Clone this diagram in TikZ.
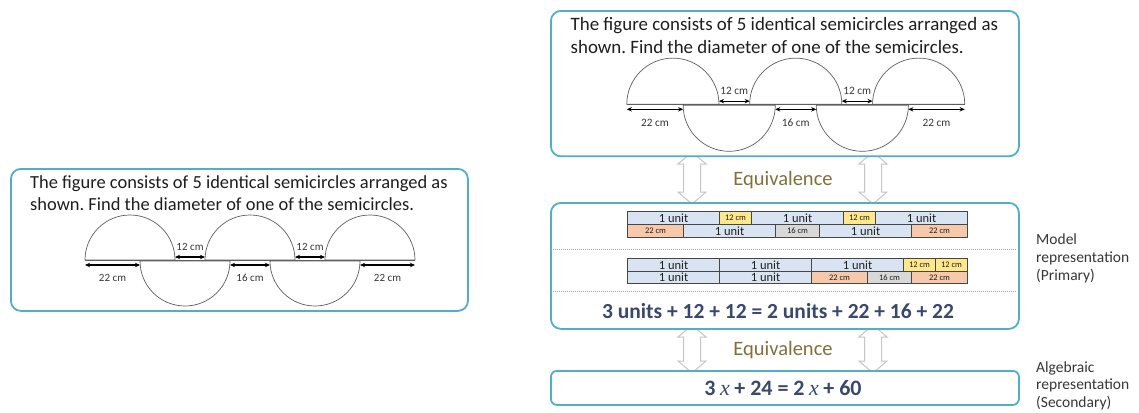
\documentclass[tikz,border=0pt]{standalone}
\usepackage{fontspec}
\setmainfont{Carlito}
\newfontfamily\xserif{Liberation Serif}
\usetikzlibrary{arrows.meta}
\frenchspacing
\definecolor{boxc}{RGB}{80,175,200}
\definecolor{unitc}{RGB}{217,228,242}
\definecolor{yelc}{RGB}{255,232,140}
\definecolor{salc}{RGB}{248,200,170}
\definecolor{grayc}{RGB}{216,216,216}
\definecolor{eqc}{RGB}{58,72,108}
\definecolor{equivc}{RGB}{130,112,60}
\definecolor{cellb}{RGB}{70,70,70}
\definecolor{txtc}{RGB}{30,30,30}
\definecolor{semic}{RGB}{95,95,95}
\definecolor{labc}{RGB}{55,55,55}
\tikzset{
  rbox/.style={draw=boxc, line width=1.8pt, rounded corners=10pt, fill=white, inner sep=0pt},
  ptext/.style={anchor=base west, inner sep=0pt, text=txtc, font=\fontsize{18.45}{22}\selectfont},
  semi/.style={draw=semic, line width=0.7pt},
  baseln/.style={draw=semic, line width=1.3pt},
  dimarr/.style={{Stealth[length=5pt,width=4.4pt]}-{Stealth[length=5pt,width=4.4pt]}, line width=1.2pt, black},
  dimlbl/.style={inner sep=0pt, text=labc, font=\fontsize{11}{12}\selectfont},
  cellbase/.style={draw=cellb, line width=1.1pt, anchor=north west, inner sep=0pt, minimum height=13pt, text=txtc},
  cu/.style={cellbase, fill=unitc, minimum width=92pt, font=\fontsize{12.5}{13}\selectfont},
  cy/.style={cellbase, fill=yelc, minimum width=32pt, font=\fontsize{8.5}{9}\selectfont},
  cs/.style={cellbase, fill=salc, minimum width=56pt, font=\fontsize{8.5}{9}\selectfont},
  cg/.style={cellbase, fill=grayc, minimum width=44pt, font=\fontsize{8.5}{9}\selectfont},
  eqarrow/.style={draw=gray!45, line width=1pt, fill=white},
  equivtxt/.style={anchor=base, inner sep=0pt, text=equivc, font=\fontsize{20.5}{24}\selectfont},
  eqtxt/.style={anchor=base, inner sep=0pt, text=eqc, font=\bfseries\fontsize{21.5}{26}\selectfont},
  sidelbl/.style={anchor=base west, inner sep=0pt, text=labc, font=\fontsize{15.5}{18}\selectfont},
  dotsep/.style={draw=gray!70, line width=0.8pt, dash pattern=on 1pt off 1pt}
}
\newcommand\problemfig[3]{%
\begin{scope}[shift={#1}, scale=#2, transform shape]
  \node[rbox, anchor=north west, minimum width=457pt, minimum height=142pt] (#3box) at (0,0) {};
  \node[ptext] (#3l1) at (20,20) {The figure consists of 5 identical semicircles arranged as};
  \node[ptext] (#3l2) at (20,42) {shown. Find the diameter of one of the semicircles.};
  \begin{scope}[shift={(75,92)}]
    \foreach \a in {0,120,240}
      \draw[semi] (\a,0) arc[start angle=180, end angle=360, radius=45] -- cycle;
    \foreach \a in {55,185}
      \draw[semi] (\a,1) arc[start angle=180, end angle=0, radius=45] -- cycle;
    \draw[baseln] (0,0.5) -- (330,0.5);
    \draw[dimarr] (0,5) -- (55,5);
    \draw[dimarr] (90,-3) -- (120,-3);
    \draw[dimarr] (145,5) -- (185,5);
    \draw[dimarr] (210,-3) -- (240,-3);
    \draw[dimarr] (275,5) -- (330,5);
    \node[dimlbl] (#3d1) at (27.5,18) {22 cm};
    \node[dimlbl] (#3d2) at (105,-13) {12 cm};
    \node[dimlbl] (#3d3) at (165,18) {16 cm};
    \node[dimlbl] (#3d4) at (225,-13) {12 cm};
    \node[dimlbl] (#3d5) at (302.5,18) {22 cm};
  \end{scope}
\end{scope}}
\newcommand\udarrow[3]{%
  \draw[eqarrow] (#1,#2) -- (#1+14,#2+12) -- (#1+8.5,#2+12) -- (#1+8.5,#3-12) -- (#1+14,#3-12)
    -- (#1,#3) -- (#1-14,#3-12) -- (#1-8.5,#3-12) -- (#1-8.5,#2+12) -- (#1-14,#2+12) -- cycle;}
\newcommand\varx{\hspace{4.5pt}{\mdseries\xserif\itshape x}\hspace{4.5pt}}
\begin{document}
\begin{tikzpicture}[x=1pt, y=-1pt]
\useasboundingbox[fill=white] (0,0) rectangle (1139,412);
% equivalence arrows (behind boxes)
\udarrow{692}{152}{204}
\udarrow{873}{152}{204}
\udarrow{692}{325}{373}
\udarrow{873}{325}{373}
% problem boxes
\problemfig{(10,168)}{1}{L}
\problemfig{(550,10)}{1.024}{R}
% model box
\node[rbox, anchor=north west, minimum width=468pt, minimum height=126pt] (mid) at (550,202) {};
\draw[dotsep] (551,249) -- (1017,249);
\draw[dotsep] (551,291) -- (1017,291);
% model 1
\node[cu] (a1) at (627,211) {1 unit};
\node[cy] (a2) at (719,211) {12 cm};
\node[cu] (a3) at (751,211) {1 unit};
\node[cy] (a4) at (843,211) {12 cm};
\node[cu] (a5) at (875,211) {1 unit};
\node[cs] (b1) at (627,224) {22 cm};
\node[cu] (b2) at (683,224) {1 unit};
\node[cg] (b3) at (775,224) {16 cm};
\node[cu] (b4) at (819,224) {1 unit};
\node[cs] (b5) at (911,224) {22 cm};
% model 2
\node[cu, minimum height=12.5pt] (c1) at (627,258) {1 unit};
\node[cu, minimum height=12.5pt] (c2) at (719,258) {1 unit};
\node[cu, minimum height=12.5pt] (c3) at (811,258) {1 unit};
\node[cy, minimum height=12.5pt] (c4) at (903,258) {12 cm};
\node[cy, minimum height=12.5pt] (c5) at (935,258) {12 cm};
\node[cu, minimum height=12.5pt] (e1) at (627,270.5) {1 unit};
\node[cu, minimum height=12.5pt] (e2) at (719,270.5) {1 unit};
\node[cs, minimum height=12.5pt] (e3) at (811,270.5) {22 cm};
\node[cg, minimum height=12.5pt] (e4) at (867,270.5) {16 cm};
\node[cs, minimum height=12.5pt] (e5) at (911,270.5) {22 cm};
\node[eqtxt] (eqm) at (778,318) {3 units + 12 + 12 = 2 units + 22 + 16 + 22};
% algebra box
\node[rbox, rounded corners=6pt, anchor=north west, minimum width=468pt, minimum height=34pt] (alg) at (550,370) {};
\node[eqtxt, font=\bfseries\fontsize{22}{26}\selectfont] (eqa) at (783,395) {3\varx+ 24 = 2\varx+ 60};
% equivalence labels
\node[equivtxt] (eq1) at (783,185) {Equivalence};
\node[equivtxt] (eq2) at (783,355) {Equivalence};
% side labels
\node[sidelbl] (m1) at (1036,244) {Model};
\node[sidelbl] (m2) at (1036,262) {representation};
\node[sidelbl] (m3) at (1036,280) {(Primary)};
\node[sidelbl] (s1) at (1036,372) {Algebraic};
\node[sidelbl] (s2) at (1036,389.5) {representation};
\node[sidelbl] (s3) at (1036,407) {(Secondary)};
\end{tikzpicture}
\end{document}
